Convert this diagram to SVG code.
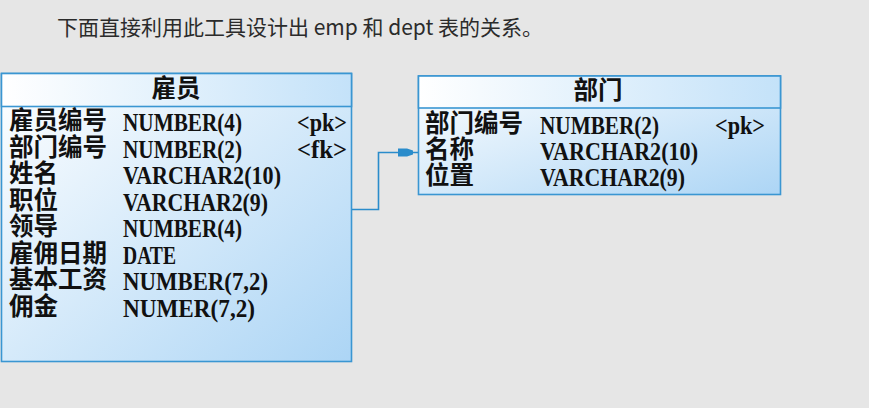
<svg xmlns="http://www.w3.org/2000/svg" width="869" height="408" viewBox="0 0 869 408">
<defs>
<linearGradient id="body" x1="0" y1="0" x2="1" y2="1">
<stop offset="0" stop-color="#ffffff"/>
<stop offset="1" stop-color="#acd5f5"/>
</linearGradient>
<linearGradient id="head" x1="0" y1="0" x2="1" y2="0">
<stop offset="0" stop-color="#ffffff"/>
<stop offset="1" stop-color="#c4e2f9"/>
</linearGradient>
<style>
.box{fill:url(#body);stroke:#3a96d2;stroke-width:1.6}
.hd{fill:url(#head);stroke:#3a96d2;stroke-width:1.6}
.cn{font-family:"Liberation Sans","Noto Sans CJK SC","Noto Sans CJK JP",sans-serif;font-weight:bold;font-size:24.5px;fill:#111}
.ty{font-family:"Liberation Serif",serif;font-weight:bold;font-size:25px;fill:#111}
.ttl{font-family:"Noto Sans CJK SC","Noto Sans CJK JP",sans-serif;font-size:21px;fill:#2b2b2b}
.ln{fill:none;stroke:#2a8ccb;stroke-width:1.6}
</style>
</defs>
<rect width="869" height="408" fill="#e6e6e6"/>
<text class="ttl" x="57" y="35">下面直接利用此工具设计出 emp 和 dept 表的关系。</text>

<g id="emp">
<rect class="box" x="1.5" y="73.5" width="350" height="288"/>
<rect class="hd" x="1.5" y="73.5" width="350" height="33"/>
<text class="cn" x="176" y="97" text-anchor="middle">雇员</text>
<text class="cn" x="9" y="129">雇员编号</text>
<text class="cn" x="9" y="155.5">部门编号</text>
<text class="cn" x="9" y="182">姓名</text>
<text class="cn" x="9" y="208.5">职位</text>
<text class="cn" x="9" y="235">领导</text>
<text class="cn" x="9" y="261.5">雇佣日期</text>
<text class="cn" x="9" y="288">基本工资</text>
<text class="cn" x="9" y="314.5">佣金</text>
<text class="ty" x="123" y="131" textLength="119" lengthAdjust="spacingAndGlyphs">NUMBER(4)</text>
<text class="ty" x="123" y="157.5" textLength="119" lengthAdjust="spacingAndGlyphs">NUMBER(2)</text>
<text class="ty" x="123" y="184" textLength="158" lengthAdjust="spacingAndGlyphs">VARCHAR2(10)</text>
<text class="ty" x="123" y="210.5" textLength="145" lengthAdjust="spacingAndGlyphs">VARCHAR2(9)</text>
<text class="ty" x="123" y="237" textLength="119" lengthAdjust="spacingAndGlyphs">NUMBER(4)</text>
<text class="ty" x="123" y="263.5" textLength="53" lengthAdjust="spacingAndGlyphs">DATE</text>
<text class="ty" x="123" y="290" textLength="145" lengthAdjust="spacingAndGlyphs">NUMBER(7,2)</text>
<text class="ty" x="123" y="316.5" textLength="132" lengthAdjust="spacingAndGlyphs">NUMER(7,2)</text>
<text class="ty" x="297" y="131" textLength="50" lengthAdjust="spacingAndGlyphs">&lt;pk&gt;</text>
<text class="ty" x="297" y="157.5" textLength="50" lengthAdjust="spacingAndGlyphs">&lt;fk&gt;</text>
</g>

<g id="dept">
<rect class="box" x="418.5" y="76" width="362" height="118.5"/>
<rect class="hd" x="418.5" y="76" width="362" height="32"/>
<text class="cn" x="598" y="99" text-anchor="middle">部门</text>
<text class="cn" x="425" y="132">部门编号</text>
<text class="cn" x="425" y="158">名称</text>
<text class="cn" x="425" y="184">位置</text>
<text class="ty" x="540" y="134" textLength="119" lengthAdjust="spacingAndGlyphs">NUMBER(2)</text>
<text class="ty" x="540" y="160" textLength="158" lengthAdjust="spacingAndGlyphs">VARCHAR2(10)</text>
<text class="ty" x="540" y="186" textLength="145" lengthAdjust="spacingAndGlyphs">VARCHAR2(9)</text>
<text class="ty" x="715" y="134" textLength="50" lengthAdjust="spacingAndGlyphs">&lt;pk&gt;</text>
</g>

<g id="connectors">
<polyline class="ln" points="352,209.5 378.5,209.5 378.5,152.5 418,152.5"/>
<polygon points="398,148.5 407,148.5 413,150.5 413,154.5 407,156.5 398,156.5" fill="#2a8ccb"/>
</g>
</svg>
